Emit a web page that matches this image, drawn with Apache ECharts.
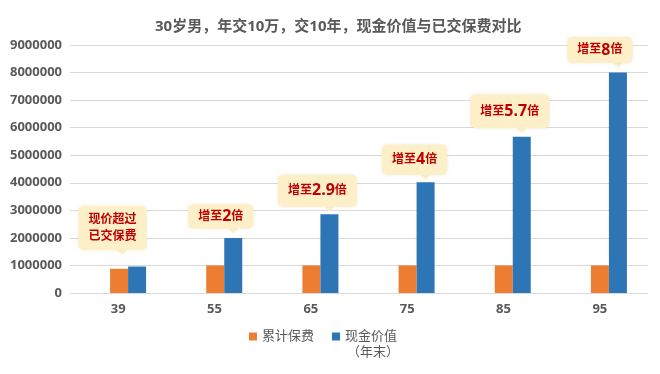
<!DOCTYPE html>
<html>
<head>
<meta charset="utf-8">
<script src="https://cdn.jsdelivr.net/npm/echarts@6/dist/echarts.min.js"></script>
<style>html,body{margin:0;padding:0;background:#fff}#c{width:660px;height:374px}</style>
</head>
<body>
<div id="c"></div>
<script>
const titleText = '30岁男，年交10万，交10年，现金价值与已交保费对比';
const categories = ['39', '55', '65', '75', '85', '95'];
const premiumPaid = [880000, 1000000, 1000000, 1000000, 1000000, 1000000];
const cashValue = [960000, 2000000, 2860000, 4020000, 5670000, 8000000];
const seriesNames = ['累计保费', '现金价值'];
const cashValueNote = '（年末）';
const calloutMultipliers = [null, '2', '2.9', '4', '5.7', '8'];
const firstCalloutLines = ['现价超过', '已交保费'];
const yMax = 9000000;
const yInterval = 1000000;

const FONT = "'Open Sans','Noto Sans CJK SC',sans-serif";
const GRAY = '#595959';
const CREAM = '#FDEFC8';
const RED = '#C00000';

// layout of each callout relative to the top of its blue bar:
// tx = tail x-offset, dy = tail y-offset, bx = box x-offset, pv = vertical padding
const calloutLayout = [
  { tx: -15, dy: -14, bx: -24.5, pv: 5 },
  { tx: 0, dy: -7, bx: -12.5, pv: 4 },
  { tx: 0, dy: -5, bx: -12, pv: 8 },
  { tx: 0, dy: -5, bx: -11, pv: 7 },
  { tx: 0, dy: -6, bx: -12, pv: 9 },
  { tx: 0, dy: -7, bx: -18, pv: 5 }
];

const markData = [];
categories.forEach((c, i) => {
  const L = calloutLayout[i];
  const text = calloutMultipliers[i] === null
    ? firstCalloutLines.map(t => '{c|' + t + '}').join('\n')
    : '{a|增至}{b|' + calloutMultipliers[i] + '}{a|倍}';
  // tail
  markData.push({
    coord: [c, cashValue[i]],
    symbol: 'path://M0,0 L10,0 L5,5 Z',
    symbolSize: [10, 5],
    symbolOffset: [L.tx, L.dy],
    itemStyle: { color: CREAM },
    label: { show: false }
  });
  // box
  markData.push({
    coord: [c, cashValue[i]],
    symbol: 'rect',
    symbolSize: [1, 1],
    symbolOffset: [L.bx, L.dy - 2],
    itemStyle: { color: 'rgba(0,0,0,0)' },
    label: {
      show: true,
      position: 'top',
      distance: 0,
      formatter: text,
      backgroundColor: CREAM,
      borderRadius: 5,
      padding: [L.pv, 10, L.pv, 10],
      shadowBlur: 3,
      shadowColor: 'rgba(200,170,100,0.25)',
      rich: {
        a: { fontFamily: FONT, fontSize: 12, fontWeight: 'bold', color: RED, lineHeight: 16 },
        b: { fontFamily: FONT, fontSize: 16, fontWeight: 'bold', color: RED, lineHeight: 16 },
        c: { fontFamily: FONT, fontSize: 12, fontWeight: 'bold', color: RED, lineHeight: 17 }
      }
    }
  });
});

const chart = echarts.init(document.getElementById('c'), null, { renderer: 'canvas' });
chart.setOption({
  animation: false,
  backgroundColor: '#fff',
  title: {
    text: titleText,
    left: 150,
    top: 14,
    textStyle: { fontFamily: FONT, fontSize: 15, fontWeight: 'bold', color: GRAY }
  },
  legend: {
    data: seriesNames,
    left: 249,
    top: 330,
    padding: 0,
    itemWidth: 8,
    itemHeight: 8,
    itemGap: 18,
    icon: 'rect',
    textStyle: { fontFamily: FONT, fontSize: 13, color: GRAY }
  },
  graphic: [{
    type: 'text',
    left: 347,
    top: 345,
    style: { text: cashValueNote, font: "13px 'Noto Sans CJK SC'", fill: GRAY }
  }],
  grid: [
    { left: 70, right: 12, top: 45, bottom: 81 },
    { left: 80, right: 3, top: 45, bottom: 81 }
  ],
  xAxis: [
    {
      type: 'category', gridIndex: 0, data: categories,
      axisLine: { show: false }, axisTick: { show: false },
      axisLabel: { margin: 10, fontFamily: FONT, fontSize: 13, fontWeight: 'bold', color: GRAY }
    },
    {
      type: 'category', gridIndex: 1, data: categories, show: false
    }
  ],
  yAxis: [
    {
      type: 'value', gridIndex: 0, min: 0, max: yMax, interval: yInterval,
      axisLine: { show: false }, axisTick: { show: false },
      splitLine: { lineStyle: { color: '#D9D9D9', width: 1 } },
      axisLabel: {
        margin: 8, fontFamily: FONT, fontSize: 13, fontWeight: 'bold', color: GRAY,
        formatter: v => String(v)
      }
    },
    {
      type: 'value', gridIndex: 1, min: 0, max: yMax, interval: yInterval, show: false,
      splitLine: { show: false }
    }
  ],
  series: [
    {
      name: seriesNames[0], type: 'bar', xAxisIndex: 1, yAxisIndex: 1,
      data: premiumPaid, barWidth: 18, barGap: '0%',
      itemStyle: { color: '#ED7D31' }
    },
    {
      name: seriesNames[1], type: 'bar', xAxisIndex: 1, yAxisIndex: 1,
      data: cashValue, barWidth: 18, barGap: '0%',
      itemStyle: { color: '#2E75B6' },
      markPoint: { data: markData, animation: false }
    }
  ]
});
</script>
</body>
</html>
